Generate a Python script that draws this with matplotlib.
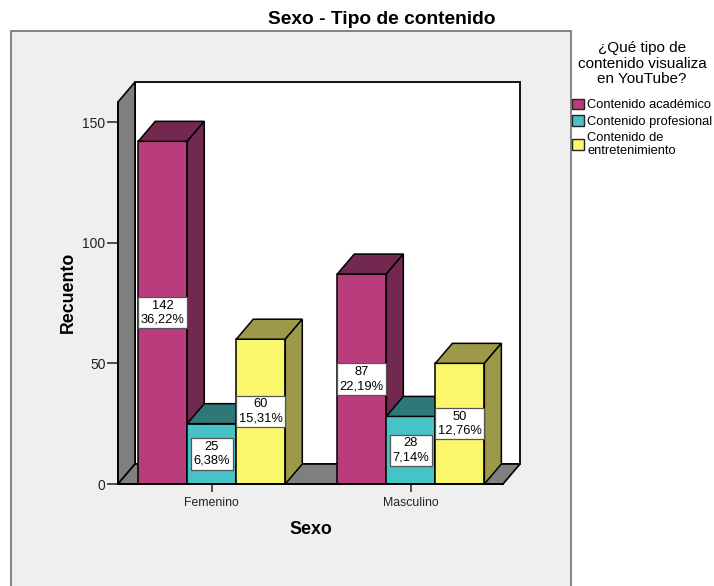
import numpy as np
import matplotlib
matplotlib.use('Agg')
import matplotlib.pyplot as plt
from matplotlib.patches import Polygon, Rectangle, Patch

plt.rcParams['font.family'] = ['Liberation Sans', 'DejaVu Sans']

sexos = ['Femenino', 'Masculino']
series = ['Contenido académico', 'Contenido profesional', 'Contenido de\nentretenimiento']
recuentos = [[142, 87], [25, 28], [60, 50]]
porcentajes = [['36,22%', '22,19%'], ['6,38%', '7,14%'], ['15,31%', '12,76%']]
yticks = [0, 50, 100, 150]

frente = ['#B93D7D', '#47C2C6', '#FBF76C']
oscuro = ['#73284F', '#2F7878', '#9C9A48']
gris = '#7F7F7F'
panel = '#EFEFEF'

W, H = 714, 586
fig = plt.figure(figsize=(W / 100, H / 100), dpi=100, facecolor='white')

# gray panel behind the plot, runs off the bottom of the image
fig.add_artist(Rectangle((11 / W, -0.02), 560 / W, (H - 31) / H + 0.02, transform=fig.transFigure,
                         fc=panel, ec='#6E6E6E', lw=1.2, zorder=-1))

ax = fig.add_axes([118 / W, (H - 484) / H, 385 / W, 382 / H])
ax.set_facecolor('none')
ax.set_xlim(-0.471, 1.463)
ax.set_ylim(0, 158.3)

# depth of the fake 3d, in data units
dx = 17 / 199
dy = 20 / 2.413
ancho = 49 / 199
x0, x1 = ax.get_xlim()
y1 = ax.get_ylim()[1]

# walls
ax.add_patch(Polygon([(x0 + dx, dy), (x1 + dx, dy), (x1 + dx, y1 + dy), (x0 + dx, y1 + dy)],
                     fc='white', ec='black', lw=1.3, clip_on=False, zorder=1))
ax.add_patch(Polygon([(x0, 0), (x0 + dx, dy), (x0 + dx, y1 + dy), (x0, y1)],
                     fc=gris, ec='black', lw=1.2, clip_on=False, zorder=1))
ax.add_patch(Polygon([(x0, 0), (x0 + dx, dy), (x1 + dx, dy), (x1, 0)],
                     fc=gris, ec='black', lw=1.2, clip_on=False, zorder=1))

z = 2
for c in range(len(sexos)):
    for s in range(len(series)):
        izq = c + (s - 1.5) * ancho
        der = izq + ancho
        v = recuentos[s][c]
        ax.bar(izq, v, ancho, align='edge', color=frente[s], edgecolor='black', lw=1.1, zorder=z)
        ax.add_patch(Polygon([(izq, v), (izq + dx, v + dy), (der + dx, v + dy), (der, v)],
                             fc=oscuro[s], ec='black', lw=1.1, zorder=z, clip_on=False))
        ax.add_patch(Polygon([(der, 0), (der + dx, dy), (der + dx, v + dy), (der, v)],
                             fc=oscuro[s], ec='black', lw=1.1, zorder=z, clip_on=False))
        ax.text(izq + ancho / 2, v / 2, '%d\n%s' % (v, porcentajes[s][c]), ha='center', va='center',
                fontsize=9.3, linespacing=1.25, zorder=10,
                bbox=dict(boxstyle='square,pad=0.2', fc='white', ec='#555555', lw=0.9))
        z += 1

ax.spines['top'].set_visible(False)
ax.spines['right'].set_visible(False)
ax.spines['left'].set_linewidth(1.2)
ax.spines['bottom'].set_linewidth(1.4)
ax.spines['left'].set_zorder(5)
ax.spines['bottom'].set_zorder(30)

ax.set_xticks(range(len(sexos)))
ax.set_xticklabels(sexos)
ax.set_yticks(yticks)
ax.tick_params(axis='x', length=6, width=1.1, labelsize=8.8, pad=3, colors='#222222')
ax.tick_params(axis='y', length=8, width=1.1, labelsize=10, pad=1, colors='#222222')

fig.text(382 / W, 1 - 19.5 / H, 'Sexo - Tipo de contenido', ha='center', va='center',
         fontsize=13.8, fontweight='bold')
fig.text(68.5 / W, 1 - 292 / H, 'Recuento', rotation=90, ha='center', va='center',
         fontsize=12.8, fontweight='bold')
fig.text(311 / W, 1 - 529 / H, 'Sexo', ha='center', va='center', fontsize=12.8, fontweight='bold')

handles = [Patch(fc=frente[i], ec='#222222', lw=1.0) for i in range(len(series))]
leg = fig.legend(handles, series, title='¿Qué tipo de\ncontenido visualiza\nen YouTube?',
                 loc='upper left', bbox_to_anchor=(568 / W, 1 - 37 / H), frameon=False,
                 fontsize=9.3, title_fontsize=11, handlelength=0.9, handleheight=0.9,
                 handletextpad=0.28, labelspacing=0.3, borderpad=0.3, borderaxespad=0)
leg.get_title().set_linespacing(1.15)
leg.get_title().set_multialignment('center')
leg._legend_box.sep = 9
for t in leg.get_texts():
    t.set_linespacing(1.05)

fig.savefig('out.png', dpi=100)
